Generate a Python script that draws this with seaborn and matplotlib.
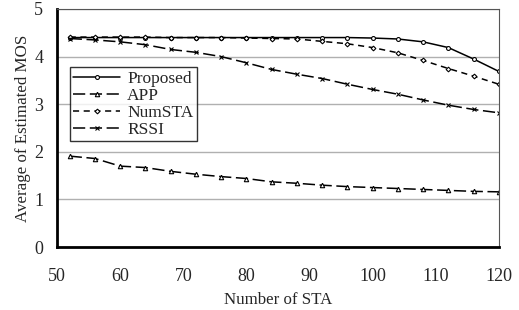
import matplotlib
matplotlib.use("Agg")
import matplotlib.pyplot as plt
import numpy as np
import pandas as pd
import seaborn as sns

# ---------------------------------------------------------------------------
# Data

num_sta = [52, 56, 60, 64, 68, 72, 76, 80, 84, 88, 92, 96, 100, 104, 108, 112, 116, 120]

proposed = [4.40, 4.40, 4.40, 4.40, 4.40, 4.40, 4.40, 4.40, 4.40, 4.40, 4.40, 4.40,
            4.39, 4.37, 4.31, 4.19, 3.95, 3.69]
app = [1.91, 1.86, 1.70, 1.67, 1.59, 1.53, 1.48, 1.44, 1.37, 1.34, 1.30, 1.27,
       1.25, 1.23, 1.21, 1.19, 1.17, 1.16]
numsta = [4.41, 4.41, 4.41, 4.41, 4.40, 4.40, 4.40, 4.39, 4.38, 4.37, 4.32, 4.27,
          4.19, 4.08, 3.92, 3.75, 3.59, 3.42]
rssi = [4.38, 4.35, 4.31, 4.25, 4.15, 4.09, 4.00, 3.87, 3.73, 3.63, 3.54, 3.42,
        3.31, 3.21, 3.09, 2.98, 2.89, 2.82]

series = {"Proposed": proposed, "APP": app, "NumSTA": numsta, "RSSI": rssi}

styles = {
    "Proposed": dict(marker="o", dashes=None, ms=2.8),
    "APP":      dict(marker="^", dashes=(8, 3), ms=3.2),
    "NumSTA":   dict(marker="D", dashes=(4, 3), ms=2.4),
    "RSSI":     dict(marker="x", dashes=(8, 3), ms=3.2),
}

df = pd.DataFrame({"STA": num_sta, **series}).melt(
    id_vars="STA", var_name="method", value_name="mos")

# ---------------------------------------------------------------------------

sns.set_theme(style="white")
plt.rcParams["font.family"] = ["Liberation Serif", "DejaVu Serif"]

fig = plt.figure(figsize=(5.19, 3.10), dpi=100)
ax = fig.add_axes([0.110, 0.203, 0.851, 0.768])

for name in series:
    st = styles[name]
    sub = df[df["method"] == name]
    sns.lineplot(data=sub, x="STA", y="mos", ax=ax, color="black",
                 linewidth=1.1, marker=st["marker"], markersize=st["ms"],
                 markerfacecolor="white", markeredgecolor="black",
                 markeredgewidth=0.8, label=name)
    if st["dashes"] is not None:
        ax.lines[-1].set_dashes(st["dashes"])

ax.set_xlim(50, 120)
ax.set_ylim(0, 5)
ax.set_xticks(range(50, 121, 10))
ax.set_yticks(range(0, 6))
ax.yaxis.grid(True, color="#b0b0b0", linewidth=1.0)
ax.xaxis.grid(False)

for side in ("left", "bottom"):
    ax.spines[side].set_color("black")
    ax.spines[side].set_linewidth(2.0)
for side in ("top", "right"):
    ax.spines[side].set_color("#555555")
    ax.spines[side].set_linewidth(0.8)
    ax.spines[side].set_visible(True)

ax.tick_params(axis="x", direction="in", length=4, width=0.8, labelsize=13, pad=15)
ax.tick_params(axis="y", direction="in", length=0, labelsize=13, pad=10)

ax.set_xlabel("Number of STA", fontsize=12.2, labelpad=5)
ax.set_ylabel("Average of Estimated MOS", fontsize=12.2, labelpad=2)

leg = ax.legend(loc="upper left", bbox_to_anchor=(0.029, 0.756), fontsize=12.5,
                frameon=True, fancybox=False, edgecolor="black",
                handlelength=2.7, handletextpad=0.4, borderpad=0.2,
                labelspacing=0.05, borderaxespad=0)
leg.get_frame().set_linewidth(1.0)

fig.savefig("out.png", dpi=100)
